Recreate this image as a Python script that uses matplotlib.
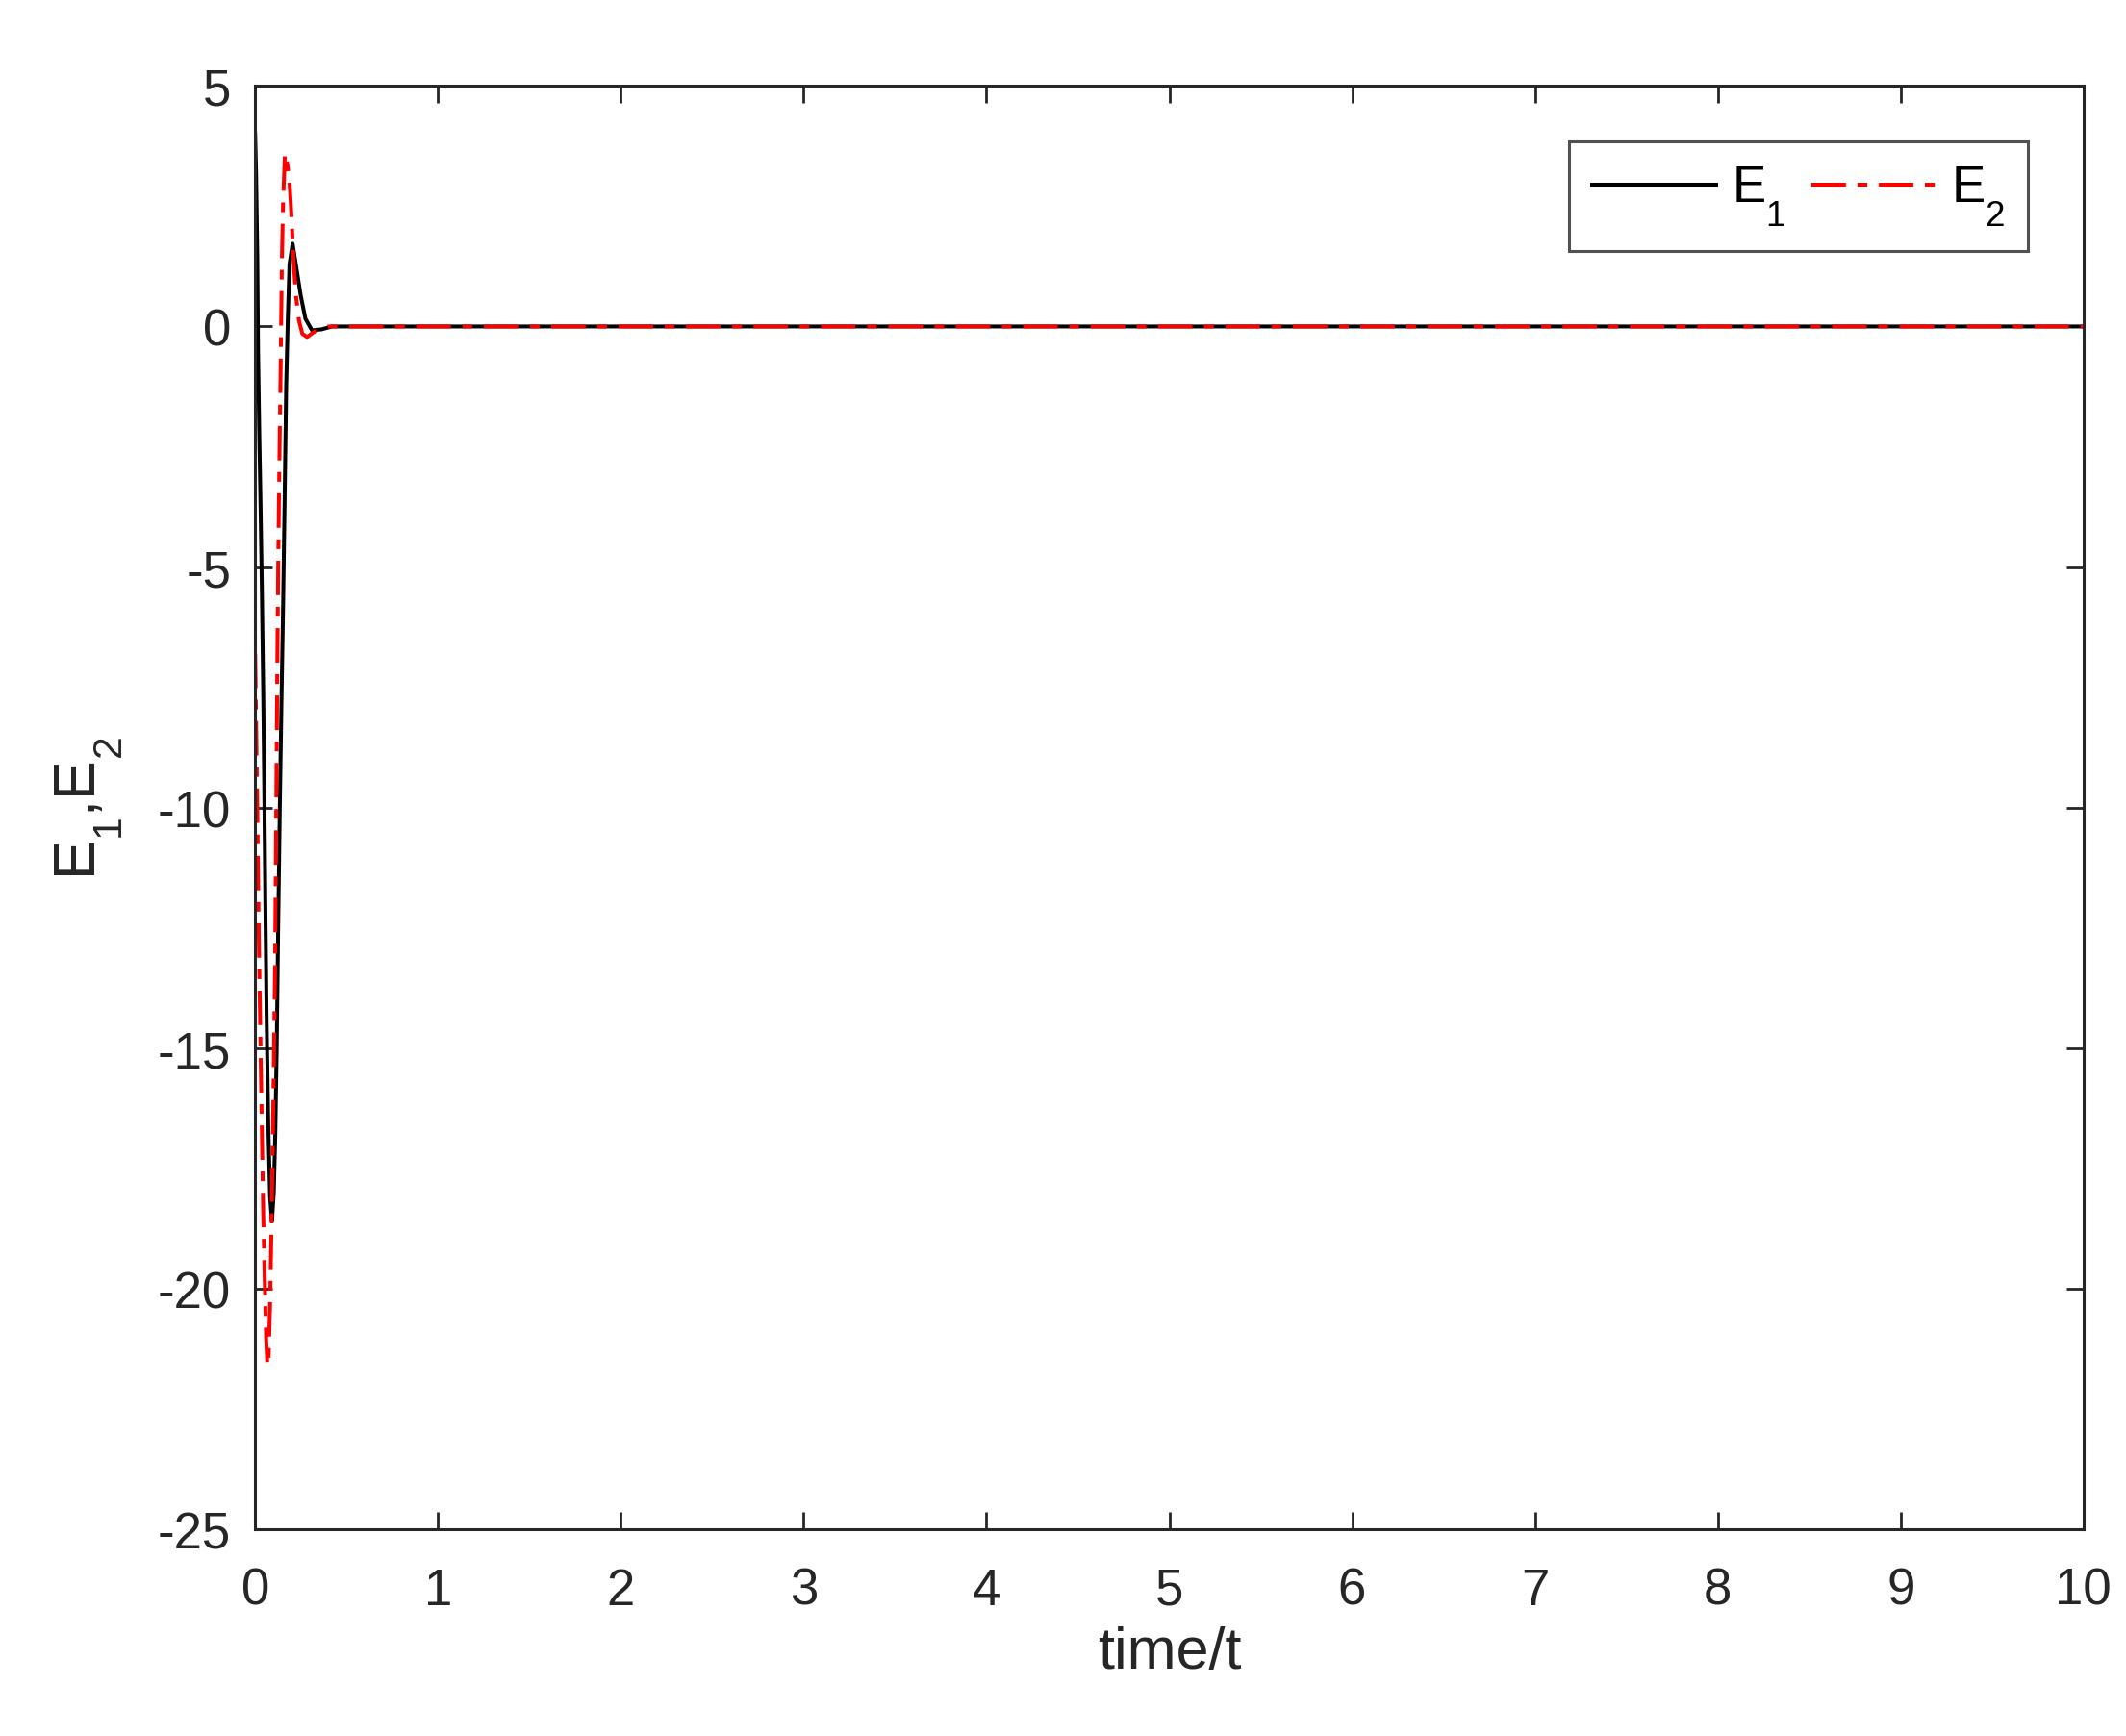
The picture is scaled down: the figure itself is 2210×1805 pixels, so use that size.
import numpy as np
import matplotlib
matplotlib.use("Agg")
import matplotlib.pyplot as plt
import matplotlib._mathtext as mt

plt.rcParams['font.family'] = ['Liberation Sans', 'DejaVu Sans']
plt.rcParams['mathtext.fontset'] = 'custom'
plt.rcParams['mathtext.rm'] = 'Liberation Sans'
plt.rcParams['mathtext.it'] = 'Liberation Sans'
plt.rcParams['axes.unicode_minus'] = False
# MATLAB puts subscripts lower than mathtext does
mt.FontConstantsBase.sub1 = 0.9

# E1 (solid black)
t1 = [0.0, 0.005, 0.012, 0.016, 0.023, 0.030, 0.037, 0.044, 0.050, 0.056,
      0.063, 0.072, 0.082, 0.092, 0.102, 0.110, 0.118, 0.126, 0.135, 0.144,
      0.153, 0.161, 0.170, 0.179, 0.188, 0.205, 0.223, 0.249, 0.275, 0.311,
      0.363, 0.42, 0.5, 10.0]
e1 = [4.0, 3.2, 1.4, -0.5, -2.3, -3.8, -5.5, -7.5, -9.6, -12.0,
      -14.4, -16.6, -18.1, -18.6, -18.0, -16.8, -15.0, -12.5, -10.0, -7.8,
      -5.8, -3.7, -1.2, 0.2, 1.3, 1.72, 1.28, 0.65, 0.16, -0.08,
      -0.06, 0.0, 0.0, 0.0]

# E2 (red dash-dot)
t2 = [0.0, 0.012, 0.021, 0.033, 0.044, 0.053, 0.060, 0.067, 0.074, 0.082,
      0.091, 0.100, 0.109, 0.114, 0.121, 0.126, 0.132, 0.139, 0.144, 0.147,
      0.153, 0.163, 0.175, 0.188, 0.198, 0.209, 0.223, 0.240, 0.258, 0.284,
      0.319, 0.40, 0.5, 10.0]
e2 = [-6.8, -10.1, -12.9, -15.8, -18.4, -19.9, -21.0, -21.6, -21.4, -20.3,
      -18.4, -16.0, -13.3, -10.8, -7.2, -5.0, -3.0, -1.0, 0.6, 1.5,
      2.6, 3.6, 3.4, 3.0, 2.35, 1.45, 0.65, 0.12, -0.15, -0.22,
      -0.12, 0.0, 0.0, 0.0]

fig = plt.figure(figsize=(11.05, 9.03), dpi=200)
ax = fig.add_axes([0.120, 0.119, 0.860, 0.831])

ax.plot(t1, e1, color='black', lw=1.45, label='E$_1$')
ax.plot(t2, e2, color='red', lw=1.45, ls=(0, (8.9, 3.0, 2.5, 3.0)), label='E$_2$')

ax.set_xlim(0, 10)
ax.set_ylim(-25, 5)
ax.set_xticks(np.arange(0, 11, 1))
ax.set_yticks(np.arange(-25, 6, 5))
ax.tick_params(direction='in', length=6.5, width=1.0, top=True, right=True,
               labelsize=19, colors='#262626')
ax.tick_params(axis='x', pad=14)
ax.tick_params(axis='y', pad=9)
for s in ax.spines.values():
    s.set_linewidth(1.1)
    s.set_color('#262626')

ax.set_xlabel('time/t', fontsize=22, color='#262626', labelpad=4)
ax.set_ylabel('E$_1$,E$_2$', fontsize=22, color='#262626', labelpad=12)

leg = ax.legend(loc='upper right', ncol=2, fontsize=19, frameon=True, fancybox=False,
                edgecolor='#262626', handlelength=2.45, columnspacing=0.5,
                handletextpad=0.3, borderpad=0.45, borderaxespad=1.1)
leg.get_frame().set_linewidth(1.1)

fig.savefig('out.png', dpi=200)
